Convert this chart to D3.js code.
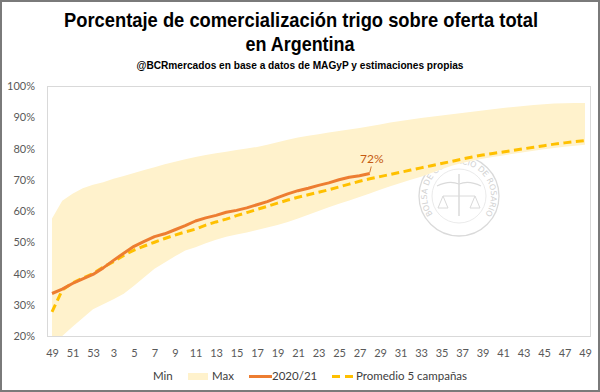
<!DOCTYPE html>
<html>
<head>
<meta charset="utf-8">
<script src="https://cdn.jsdelivr.net/npm/d3@7"></script>
<style>
  body { margin: 0; background: #fff; }
</style>
</head>
<body>
<div id="chart"></div>
<script>
// semanas del año comercial (la 1 no figura en el eje original)
const semanas = ["49","50","51","52","53",
  "2","3","4","5","6","7","8","9","10","11","12","13","14","15","16","17","18","19","20",
  "21","22","23","24","25","26","27","28","29","30","31","32","33","34","35","36","37","38",
  "39","40","41","42","43","44","45","46","47","48","49"];

// % comercializado sobre oferta total
const minimo = [20,20,23,25.8,28.6,30.2,31.8,33.5,36.1,38.8,41.5,43.5,45.5,47.4,48.4,49.7,50.8,51.8,
  52.5,53.1,53.9,54.7,55.5,56.5,57.6,58.8,60,61.2,62.3,63.4,64.5,65.6,66.8,67.9,69,70,71,72.2,73.4,
  74.5,75.4,76.1,76.7,77.3,77.8,78.3,78.8,79.3,79.8,80.2,80.6,80.9,81.2];
const maximo = [57.6,63.3,65.5,67.3,68.4,69.2,70.3,71.2,72.2,73.1,74,75,75.8,76.6,77.3,77.9,78.5,79,
  79.5,80,80.5,81.2,82,82.8,83.5,84.1,84.6,85.1,85.6,86.1,86.6,87.1,87.7,88.3,88.8,89.3,89.8,90.2,
  90.6,91,91.4,91.8,92.2,92.6,93,93.3,93.6,93.9,94.2,94.4,94.5,94.6,94.6];
const campania2021 = [33.6,35,36.8,38.3,39.7,41.8,44.2,46.5,48.7,50.3,51.8,52.7,54,55.3,56.8,57.8,
  58.6,59.6,60.2,61,62,63,64.3,65.5,66.5,67.3,68.2,69,70,70.8,71.3,72];
const promedio5 = [27.7,34.7,37,38.5,40,42,43.8,45.8,47.5,48.8,50,51.2,52.3,53.3,54.2,55.5,56.5,57.4,
  58.5,59.5,60.5,61.5,62.5,63.5,64.4,65.2,66,66.8,67.7,68.6,69.5,70.3,71,71.7,72.4,73.1,73.8,74.5,
  75.2,75.9,76.6,77.3,77.9,78.4,78.9,79.4,79.9,80.4,80.9,81.4,81.8,82.2,82.5];

const yTicks = [20,30,40,50,60,70,80,90,100];
const titulo = ["Porcentaje de comercialización trigo sobre oferta total", "en Argentina"];
const fuente = "@BCRmercados  en base a datos de MAGyP y estimaciones propias";
const leyenda = ["Min", "Max", "2020/21", "Promedio 5 campañas"];

const W = 600, H = 392;
const plot = {left: 47, right: 590, top: 86, bottom: 336};
const labelFont = "Lato, 'Open Sans', sans-serif";
const titleFont = "'Liberation Sans', Arial, sans-serif";

const svg = d3.select("#chart").append("svg")
    .attr("width", W)
    .attr("height", H);

svg.append("rect")
    .attr("width", W).attr("height", H)
    .attr("fill", "#fff");

// condensed look: squeeze the glyphs to the width measured on the original
function addTitle(txt, cx, baseline, size, width) {
    return svg.append("text")
        .attr("x", cx - width / 2).attr("y", baseline)
        .attr("textLength", width)
        .attr("lengthAdjust", "spacingAndGlyphs")
        .style("font-family", titleFont)
        .style("font-weight", "bold")
        .style("font-size", size + "px")
        .style("fill", "#000")
        .text(txt);
}
addTitle(titulo[0], 301, 27, 20.5, 474);
addTitle(titulo[1], 300, 50.5, 20.5, 109);
addTitle(fuente, 300, 68.5, 10.5, 327);

// scales
const x = d3.scalePoint()
    .domain(d3.range(semanas.length))
    .range([52, 585]);
const y = d3.scaleLinear()
    .domain([20, 100])
    .range([plot.bottom, plot.top]);

svg.append("defs").append("clipPath").attr("id", "clip")
  .append("rect")
    .attr("x", plot.left).attr("y", plot.top)
    .attr("width", plot.right - plot.left).attr("height", plot.bottom - plot.top);

// watermark seal (sits under the band)
const sealColor = "#dadada";
const seal = svg.append("g").attr("transform", "translate(459,196)");
seal.append("circle").attr("r", 40).attr("fill", "none").attr("stroke", sealColor).attr("stroke-width", 1.3);
seal.append("circle").attr("r", 27).attr("fill", "none").attr("stroke", "#e4e4e4").attr("stroke-width", 0.8);
const arcR = 32, a0 = -138 * Math.PI / 180, a1 = 138 * Math.PI / 180;
seal.append("path")
    .attr("id", "sealArc")
    .attr("fill", "none")
    .attr("d", `M${arcR * Math.sin(a0)},${-arcR * Math.cos(a0)} A${arcR},${arcR} 0 1 1 ${arcR * Math.sin(a1)},${-arcR * Math.cos(a1)}`);
seal.append("text")
    .style("font-family", "'DejaVu Sans', sans-serif")
    .style("font-size", "8px")
    .style("fill", "#d2d2d2")
  .append("textPath")
    .attr("href", "#sealArc")
    .attr("startOffset", "50%")
    .attr("text-anchor", "middle")
    .text("BOLSA DE COMERCIO DE ROSARIO");
seal.append("line").attr("x1", 0).attr("x2", 0).attr("y1", -22).attr("y2", 20)
    .attr("stroke", sealColor).attr("stroke-width", 1.5);
seal.append("path").attr("d", "M-22,-10 Q-10,-16 0,-12 Q10,-16 22,-10")
    .attr("fill", "none").attr("stroke", sealColor).attr("stroke-width", 1.2);
seal.append("path").attr("d", "M-16,0 L16,0 M-16,0 L-21,12 L-11,12 Z M16,0 L11,12 L21,12 Z")
    .attr("fill", "none").attr("stroke", sealColor).attr("stroke-width", 1);

const g = svg.append("g").attr("clip-path", "url(#clip)");

// min–max band
g.append("path")
    .datum(d3.range(semanas.length))
    .attr("fill", "#FFF2CC")
    .attr("d", d3.area()
        .x(function(i) { return x(i); })
        .y0(function(i) { return y(minimo[i]); })
        .y1(function(i) { return y(maximo[i]); }));

// promedio 5 campañas
g.append("path")
    .datum(promedio5)
    .attr("fill", "none")
    .attr("stroke", "#FFC000")
    .attr("stroke-width", 3)
    .attr("stroke-dasharray", "8,4.5")
    .attr("d", d3.line()
        .x(function(d, i) { return x(i); })
        .y(function(d) { return y(d); }));

// campaña 2020/21
g.append("path")
    .datum(campania2021)
    .attr("fill", "none")
    .attr("stroke", "#ED7D31")
    .attr("stroke-width", 3)
    .attr("stroke-linejoin", "round")
    .attr("d", d3.line()
        .x(function(d, i) { return x(i); })
        .y(function(d) { return y(d); }));

// last value label
const last = campania2021.length - 1;
svg.append("line")
    .attr("x1", x(last)).attr("y1", y(campania2021[last]) - 1)
    .attr("x2", x(last) + 1.5).attr("y2", y(campania2021[last]) - 7)
    .attr("stroke", "#C55A11").attr("stroke-width", 0.8);
svg.append("text")
    .attr("x", x(last) + 2)
    .attr("y", y(campania2021[last]) - 11)
    .attr("text-anchor", "middle")
    .style("font-family", labelFont)
    .style("font-size", "12px")
    .style("fill", "#C55A11")
    .text(d3.format(".0f")(campania2021[last]) + "%");

// plot area border
svg.append("rect")
    .attr("x", plot.left + 0.5).attr("y", plot.top + 0.5)
    .attr("width", plot.right - plot.left).attr("height", plot.bottom - plot.top)
    .attr("fill", "none")
    .attr("stroke", "#d9d9d9");

// axes
const xAxis = svg.append("g")
    .attr("transform", "translate(0,346)")
    .call(d3.axisBottom(x)
        .tickValues(d3.range(0, semanas.length, 2))
        .tickFormat(function(i) { return semanas[i]; })
        .tickSize(0));
xAxis.select(".domain").remove();
xAxis.selectAll("text")
    .style("font-family", labelFont)
    .style("font-size", "11px")
    .style("fill", "#595959");

const yAxis = svg.append("g")
    .attr("transform", "translate(35,0)")
    .call(d3.axisLeft(y)
        .tickValues(yTicks)
        .tickFormat(function(d) { return d + "%"; })
        .tickSize(0)
        .tickPadding(0));
yAxis.select(".domain").remove();
yAxis.selectAll("text")
    .style("font-family", labelFont)
    .style("font-size", "11px")
    .style("fill", "#595959");

// legend
const legendItems = [
    {name: leyenda[0], x: 131, kind: "none"},
    {name: leyenda[1], x: 188, kind: "area"},
    {name: leyenda[2], x: 249, kind: "line"},
    {name: leyenda[3], x: 332, kind: "dash"}
];
const lg = svg.append("g").attr("transform", "translate(0,380)");
legendItems.forEach(function(it) {
    const item = lg.append("g").attr("transform", "translate(" + it.x + ",0)");
    let textX = 22;
    if (it.kind === "area") {
        item.append("rect").attr("x", 0).attr("y", -7).attr("width", 20).attr("height", 7)
            .attr("fill", "#FFF2CC");
        textX = 24;
    } else if (it.kind === "line") {
        item.append("line").attr("x1", 0).attr("x2", 23).attr("y1", -3.5).attr("y2", -3.5)
            .attr("stroke", "#ED7D31").attr("stroke-width", 3);
        textX = 23;
    } else if (it.kind === "dash") {
        item.append("line").attr("x1", 0).attr("x2", 22).attr("y1", -3.5).attr("y2", -3.5)
            .attr("stroke", "#FFC000").attr("stroke-width", 3).attr("stroke-dasharray", "8,5");
        textX = 24;
    }
    item.append("text")
        .attr("x", textX).attr("y", 0)
        .style("font-family", labelFont)
        .style("font-size", "11.5px")
        .style("fill", "#404040")
        .text(it.name);
});

// outer frame
svg.append("rect")
    .attr("x", 1).attr("y", 1)
    .attr("width", W - 2).attr("height", H - 2)
    .attr("fill", "none")
    .attr("stroke", "#7a7a7a")
    .attr("stroke-width", 2);
</script>
</body>
</html>
